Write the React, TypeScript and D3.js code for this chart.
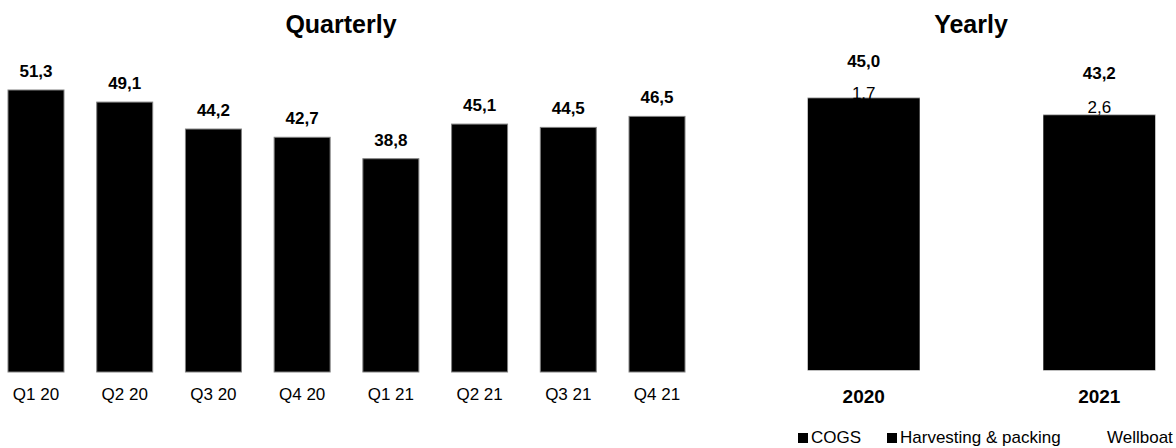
import * as d3 from "d3";

const quarters = ["Q1 20", "Q2 20", "Q3 20", "Q4 20", "Q1 21", "Q2 21", "Q3 21", "Q4 21"];
const quarterTotals = [51.3, 49.1, 44.2, 42.7, 38.8, 45.1, 44.5, 46.5];

const years = ["2020", "2021"];
const cogs = [40.6, 37.7];
const harvesting = [2.7, 2.9];
const wellboat = [1.7, 2.6];

const legendItems = ["COGS", "Harvesting & packing", "Wellboat"];
const legendColors = ["#000000", "#000000", "#ffffff"];

const fmt = (v: number) => v.toFixed(1).replace(".", ",");
const font = "'Liberation Sans', Arial, sans-serif";

export default function App() {
  const width = 1176;
  const height = 448;

  // quarterly panel
  const xq = d3.scaleBand().domain(quarters).range([8, 685]).paddingInner(0.369).paddingOuter(0);
  const yq = d3.scaleLinear().domain([0, 60]).range([372, 372 - 60 * 5.497]);

  // yearly panel
  const xy = d3.scaleBand().domain(years).range([808, 1155]).paddingInner(0.527).paddingOuter(0);
  const yy = d3.scaleLinear().domain([0, 50]).range([370, 370 - 50 * 6.28]);

  const rows = years.map((y, i) => ({ year: y, cogs: cogs[i], harvesting: harvesting[i], wellboat: wellboat[i] }));
  const keys = ["cogs", "harvesting", "wellboat"];
  const stacked = d3.stack<any>().keys(keys)(rows);
  const colorOf: Record<string, string> = { cogs: legendColors[0], harvesting: legendColors[1], wellboat: legendColors[2] };

  const legendX = [798, 887, 1107];

  return (
    <svg width={width} height={height} style={{ position: "absolute", left: 0, top: 0 }} fontFamily={font}>
      <rect width={width} height={height} fill="#fff" />
      <text x={341} y={33} textAnchor="middle" fontSize={25} fontWeight="bold">Quarterly</text>
      <text x={971} y={33} textAnchor="middle" fontSize={25} fontWeight="bold">Yearly</text>

      {quarters.map((q, i) => {
        const x = xq(q)!;
        const top = yq(quarterTotals[i]);
        return (
          <g key={q}>
            <rect x={x} y={top} width={xq.bandwidth()} height={yq(0) - top} fill="#000" stroke="#808080" strokeWidth={1} />
            <text x={x + xq.bandwidth() / 2} y={top - 13} textAnchor="middle" fontSize={17} fontWeight="bold">{fmt(quarterTotals[i])}</text>
            <text x={x + xq.bandwidth() / 2} y={400} textAnchor="middle" fontSize={17}>{q}</text>
          </g>
        );
      })}

      {stacked.map((s) => (
        <g key={s.key}>
          {s.map((d, i) => (
            <rect key={i} x={xy(years[i])!} y={yy(d[1])} width={xy.bandwidth()} height={yy(d[0]) - yy(d[1])} fill={colorOf[s.key]} />
          ))}
        </g>
      ))}
      {rows.map((r, i) => {
        const x = xy(r.year)!;
        const blackTop = yy(r.cogs + r.harvesting);
        const total = r.cogs + r.harvesting + r.wellboat;
        const top = yy(total);
        return (
          <g key={r.year}>
            <rect x={x} y={blackTop} width={xy.bandwidth()} height={yy(0) - blackTop} fill="none" stroke="#808080" strokeWidth={1} />
            <text x={x + xy.bandwidth() / 2} y={(top + blackTop) / 2 + 1} dominantBaseline="central" textAnchor="middle" fontSize={17}>{fmt(r.wellboat)}</text>
            <rect x={x} y={blackTop + 0.5} width={xy.bandwidth()} height={yy(0) - blackTop - 0.5} fill="#000" />
            <text x={x + xy.bandwidth() / 2} y={top - 20} textAnchor="middle" fontSize={17} fontWeight="bold">{fmt(total)}</text>
            <text x={x + xy.bandwidth() / 2} y={403} textAnchor="middle" fontSize={19} fontWeight="bold">{r.year}</text>
          </g>
        );
      })}

      {legendItems.map((name, i) => (
        <g key={name}>
          <rect x={legendX[i]} y={433} width={10} height={10} fill={legendColors[i]} />
          <text x={legendX[i] + (i === 2 ? 0 : 13)} y={443} fontSize={17}>{name}</text>
        </g>
      ))}
    </svg>
  );
}
